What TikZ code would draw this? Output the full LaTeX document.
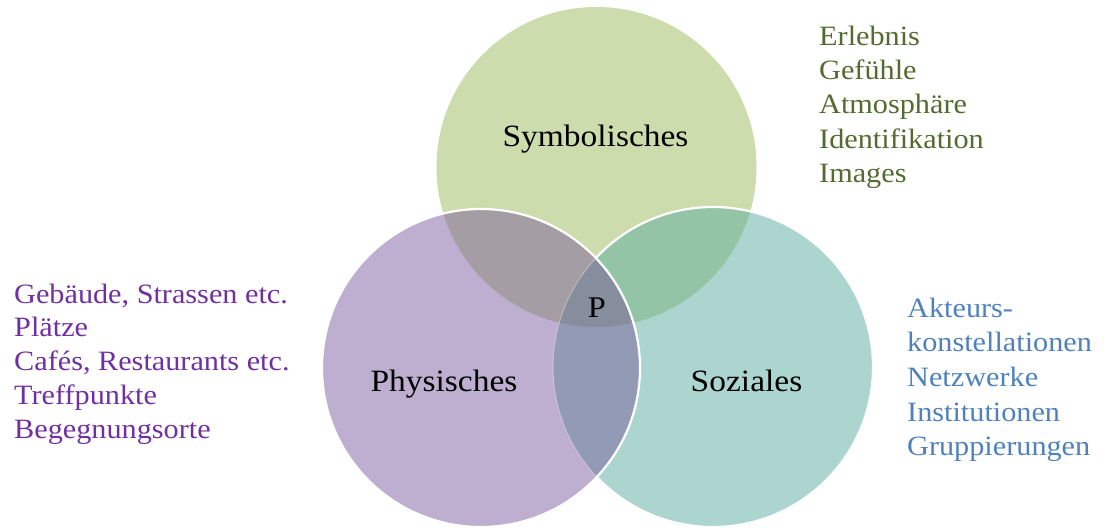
\documentclass[tikz,border=0pt]{standalone}
\usepackage{fontspec}
\setmainfont{Liberation Serif}[FakeStretch=1.08]
\definecolor{cG}{HTML}{CDDCAC}
\definecolor{cT}{HTML}{ADD5CF}
\definecolor{cP}{HTML}{BEAED0}
\definecolor{cPG}{HTML}{A59DA4}
\definecolor{cGT}{HTML}{93C4A6}
\definecolor{cPT}{HTML}{939AB5}
\definecolor{cC}{HTML}{868E9D}
\definecolor{tG}{HTML}{546B30}
\definecolor{tP}{HTML}{7030A0}
\definecolor{tB}{HTML}{4F81BD}
\tikzset{
  lbl/.style={font=\fontsize{31}{36}\selectfont, text=black, anchor=base, inner sep=0pt},
  side/.style={align=left, anchor=base west, inner sep=0pt},
  ring/.style={draw=white, line width=2.2pt}
}
\begin{document}
\begin{tikzpicture}[x=1pt,y=-1pt]
\useasboundingbox (0,0) rectangle (1110,530);
\coordinate (G) at (596.5,167);
\coordinate (T) at (713,367);
\coordinate (P) at (481,368);
% base fills
\fill[cG] (G) circle[radius=160pt];
\fill[cT] (T) circle[radius=160pt];
\begin{scope}
  \clip (G) circle[radius=160pt];
  \fill[cGT] (T) circle[radius=160pt];
\end{scope}
\draw[ring] (T) circle[radius=160pt];
\fill[cP] (P) circle[radius=159pt];
\begin{scope}
  \clip (P) circle[radius=159pt];
  \fill[cPG] (G) circle[radius=160pt];
  \fill[cPT] (T) circle[radius=160pt];
  \clip (T) circle[radius=160pt];
  \fill[cC] (G) circle[radius=160pt];
\end{scope}
\begin{scope}
  \clip (P) circle[radius=159pt];
  \draw[draw=white, opacity=0.35, line width=1pt] (T) circle[radius=160pt];
\end{scope}
\draw[ring] (P) circle[radius=159pt];
% labels
\node[lbl] (sym) at (595.5,146) {Symbolisches};
\node[lbl] (phy) at (444,391) {Physisches};
\node[lbl] (soz) at (746.5,391) {Soziales};
\node[lbl, font=\fontsize{30}{33}\selectfont] (pp) at (597,317) {P};
% side texts (anchored at the baseline of the last line)
\node[side, text=tG, font=\fontsize{28}{34.4}\selectfont] (gtxt) at (819,182.6) {Erlebnis\\Gefühle\\Atmosphäre\\Identifikation\\Images};
\node[side, text=tP, font=\fontsize{28}{33.8}\selectfont] (ptxt) at (14,438.2) {Gebäude, Strassen etc.\\Plätze\\Cafés, Restaurants etc.\\Treffpunkte\\Begegnungsorte};
\node[side, text=tB, font=\fontsize{28}{34.7}\selectfont] (btxt) at (907,455.8) {Akteurs-\\konstellationen\\Netzwerke\\Institutionen\\Gruppierungen};
\end{tikzpicture}
\end{document}
